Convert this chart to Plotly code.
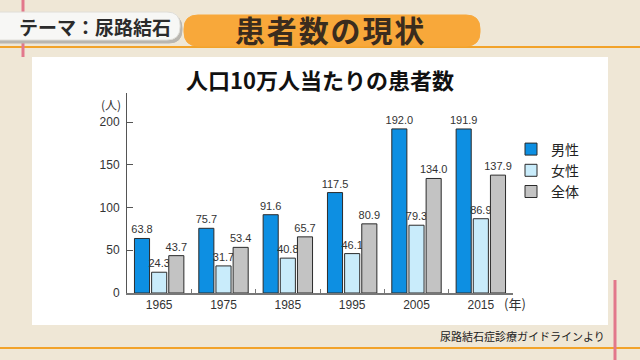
import plotly.graph_objects as go

years = ["1965", "1975", "1985", "1995", "2005", "2015"]
male = [63.8, 75.7, 91.6, 117.5, 192.0, 191.9]
female = [24.3, 31.7, 40.8, 46.1, 79.3, 86.9]
total = [43.7, 53.4, 65.7, 80.9, 134.0, 137.9]
series_names = ["男性", "女性", "全体"]
y_ticks = [0, 50, 100, 150, 200]

W, H = 640, 360
L, R, T, B = 127, 513, 93, 293  # plot area in pixels


def px(x):
    return (x - L) / (R - L)


def py(y):
    return (B - y) / (B - T)


JP = "Noto Sans CJK JP"
NUM = "Liberation Sans, Arial, sans-serif"

fig = go.Figure()
colors = ["#0d8fe2", "#c9ecfb", "#c3c3c3"]
for name, vals, col in zip(series_names, [male, female, total], colors):
    fig.add_trace(go.Bar(
        x=years, y=vals, name=name,
        marker=dict(color=col, line=dict(color="#2b2b2b", width=1)),
        text=[f"{v:.1f}" for v in vals], textposition="outside",
        textfont=dict(family=NUM, size=11, color="#333333"),
        constraintext="none", cliponaxis=False,
    ))

shapes = []
# white panel
shapes.append(dict(type="rect", xref="paper", yref="paper", layer="below",
                   x0=px(32), x1=px(608), y0=py(325), y1=py(57),
                   fillcolor="white", line=dict(width=0)))
# orange brush lines
shapes.append(dict(type="line", xref="paper", yref="paper", layer="below",
                   x0=px(0), x1=px(640), y0=py(47), y1=py(47),
                   line=dict(color="#f2a32a", width=2)))
shapes.append(dict(type="line", xref="paper", yref="paper", layer="below",
                   x0=px(0), x1=px(640), y0=py(348), y1=py(348),
                   line=dict(color="#f2a32a", width=2)))
# pink vertical lines
shapes.append(dict(type="line", xref="paper", yref="paper", layer="below",
                   x0=px(23), x1=px(23), y0=py(0), y1=py(57),
                   line=dict(color="#e2788c", width=3)))
shapes.append(dict(type="line", xref="paper", yref="paper", layer="below",
                   x0=px(615), x1=px(615), y0=py(280), y1=py(360),
                   line=dict(color="#e2788c", width=3)))


def pill(x0, x1, y0, y1, r, fill, line_col=None):
    def P(x, y):
        return f"{px(x)},{py(y)}"
    path = (f"M {P(x0 + r, y0)} L {P(x1 - r, y0)} Q {P(x1, y0)} {P(x1, y0 + r)} "
            f"L {P(x1, y1 - r)} Q {P(x1, y1)} {P(x1 - r, y1)} L {P(x0 + r, y1)} "
            f"Q {P(x0, y1)} {P(x0, y1 - r)} L {P(x0, y0 + r)} Q {P(x0, y0)} {P(x0 + r, y0)} Z")
    return dict(type="path", xref="paper", yref="paper", layer="below", path=path,
                fillcolor=fill, line=dict(color=line_col or fill, width=1))


shapes.append(pill(-20, 182, 15, 43, 13, "#b9b6b0"))
shapes.append(pill(-20, 180, 12, 40, 13, "#f7f7f5", "#e0ded8"))
shapes.append(pill(184, 480, 15, 46, 14, "#f8a83a"))


def note(text, x, y, size, color, bold=False, xanchor="center", family=JP):
    f = dict(family=family, size=size, color=color)
    if bold:
        f["weight"] = "bold"
    return dict(text=text, x=px(x), y=py(y), xref="paper", yref="paper",
                xanchor=xanchor, yanchor="middle", showarrow=False, font=f)


hs = "\u200a"
annotations = [
    note("テーマ：尿路結石", 95, 27, 19, "#2b2b2b", bold=True),
    note(hs.join("患者数の現状"), 329, 29, 30, "#3a2c1e", bold=True),
    note("人口10万人当たりの患者数", 320, 79, 22, "#111111", bold=True),
    note("(人)", 111, 104, 12, "#333333"),
    note("(年)", 515, 303, 13, "#333333"),
    note("尿路結石症診療ガイドラインより", 607, 336, 11, "#222222", xanchor="right"),
]

fig.update_layout(
    width=W, height=H,
    margin=dict(l=L, r=W - R, t=T, b=H - B, pad=0, autoexpand=False),
    paper_bgcolor="#efe7d6", plot_bgcolor="white",
    barmode="group", bargap=0.2, bargroupgap=0.12,
    showlegend=True,
    legend=dict(x=px(511), y=py(133.5), xanchor="left", yanchor="top",
                font=dict(family=JP, size=14, color="#222222"),
                bgcolor="rgba(0,0,0,0)", borderwidth=0),
    shapes=shapes, annotations=annotations,
    xaxis=dict(showline=True, linecolor="#777777", linewidth=1.5, ticks="inside",
               tickson="boundaries", ticklen=4, tickcolor="#777777", showgrid=False,
               tickfont=dict(family=NUM, size=12, color="#333333")),
    yaxis=dict(range=[0, 234], tickvals=y_ticks, showline=True, linecolor="#555555",
               linewidth=1, ticks="inside", ticklen=6, tickcolor="#555555",
               showgrid=False, zeroline=False, ticklabelstandoff=4,
               tickfont=dict(family=NUM, size=12, color="#333333")),
)

fig.write_html("out.html", config={"displayModeBar": False},
               post_script="document.body.style.margin='0';document.body.style.overflow='hidden';")
